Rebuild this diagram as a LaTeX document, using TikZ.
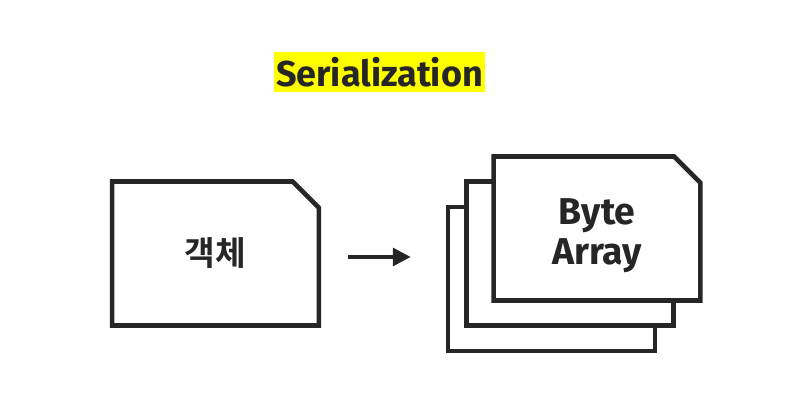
\documentclass[tikz,border=0pt]{standalone}
\usepackage{fontspec}
\setmainfont{Fira Sans}
\newfontfamily\krfont{Noto Sans CJK KR Bold}
\usetikzlibrary{shapes.misc, arrows.meta, positioning}

\definecolor{ink}{HTML}{262626}
\definecolor{marker}{HTML}{FFFF00}

\begin{document}
\begin{tikzpicture}[
    x=0.75pt, y=-0.75pt,
    card/.style={chamfered rectangle, chamfered rectangle corners=north east, chamfered rectangle xsep=9.8pt, chamfered rectangle ysep=9.8pt, draw=ink, line width=3.4pt, fill=white, text=ink, minimum width=155pt, minimum height=108pt, inner sep=0pt},
    sheet/.style={rectangle, draw=ink, line width=3.4pt, fill=white, minimum width=155pt, minimum height=108pt, inner sep=0pt},
    heading/.style={fill=marker, text=ink, minimum width=158pt, minimum height=30pt, inner sep=0pt, font=\bfseries\fontsize{27}{30}\selectfont},
    arrow/.style={-{Triangle[length=13.5pt, width=13pt]}, line width=3.4pt, draw=ink}
]
\useasboundingbox (0,0) rectangle (790,411);

% Title
\node[heading] (title) at (379.5,72) {Serialization};

% Object
\node[card, font=\krfont\fontsize{25}{30}\selectfont] (obj) at (215.5,253.5) {객체};

% Byte array stack
\node[sheet] (back) at (551.5,279) {};
\node[sheet] (middle) at (570,253.5) {};
\node[card, font=\bfseries\fontsize{28}{30}\selectfont] (front) at (597,228.5)
    {\raisebox{0pt}[25pt][30.5pt]{\begin{tabular}[t]{@{}c@{}}Byte\\Array\end{tabular}}};

% Arrow
\draw[arrow] ([xshift=20.25pt, yshift=-2.6pt]obj.east) -- ([xshift=-26.25pt, yshift=-2.6pt]obj.east -| back.west);

\end{tikzpicture}
\end{document}
